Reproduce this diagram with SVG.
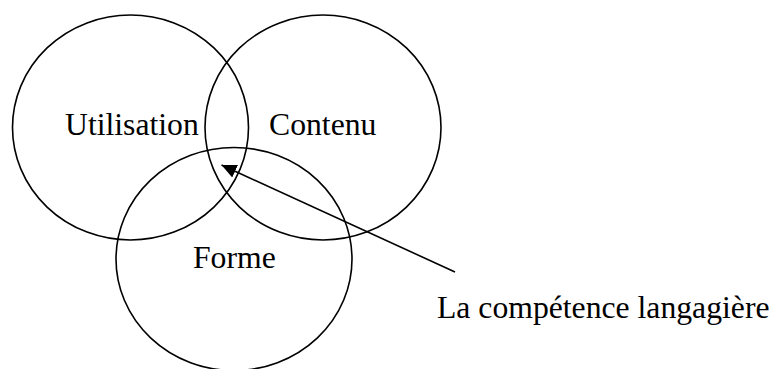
<svg xmlns="http://www.w3.org/2000/svg" width="774" height="369" viewBox="0 0 774 369">
<style>
.c{fill:none;stroke:#000;stroke-width:1.6}
.t{font-family:"Liberation Serif","Times New Roman",serif;font-size:31.7px;fill:#000}
.l{fill:none;stroke:#000;stroke-width:1.6}
</style>
<defs>
<marker id="ah" markerUnits="userSpaceOnUse" markerWidth="16" markerHeight="15" viewBox="0 0 16 15" refX="15" refY="7.5" orient="auto">
<path d="M0,0.5 L15,7.5 L0,14.5 Z" fill="#000"/>
</marker>
</defs>
<rect width="774" height="369" fill="#fff"/>
<g id="utilisation">
<ellipse class="c" cx="130.5" cy="127.5" rx="118" ry="112.5"/>
<text class="t" x="65" y="135">Utilisation</text>
</g>
<g id="contenu">
<ellipse class="c" cx="323" cy="127.5" rx="118" ry="112.5"/>
<text class="t" x="269" y="135">Contenu</text>
</g>
<g id="forme">
<ellipse class="c" cx="234" cy="259" rx="118" ry="111.5"/>
<text class="t" x="193" y="268">Forme</text>
</g>
<g id="competence">
<text class="t" x="437" y="318">La compétence langagière</text>
</g>
<g id="connectors">
<line class="l" x1="455" y1="272" x2="221.5" y2="165" marker-end="url(#ah)"/>
</g>
</svg>
